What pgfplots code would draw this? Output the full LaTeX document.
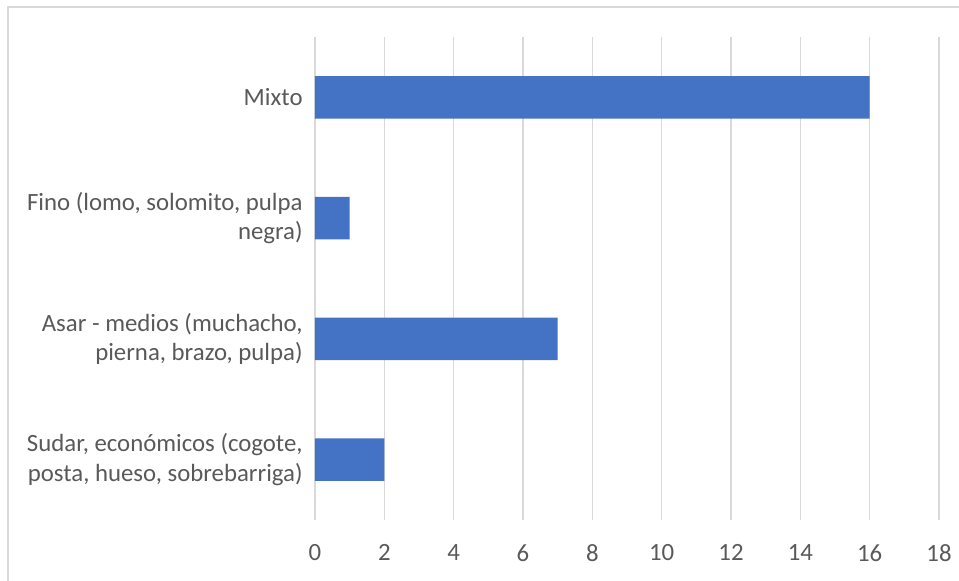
\documentclass[border=0pt]{standalone}
\usepackage{fontspec}
\setmainfont{Carlito}
\usepackage{pgfplots}
\pgfplotsset{compat=1.18}
\definecolor{barblue}{HTML}{4472C4}
\definecolor{txtgray}{HTML}{595959}
\definecolor{gridgray}{HTML}{D9D9D9}
\begin{document}
\begin{tikzpicture}
% 1 px of the reference = 0.5pt
\useasboundingbox (0,0) rectangle (479.5pt,290.5pt);
\draw[gridgray, line width=1pt] (4pt,0) -- (4pt,286.8pt) -- (479.5pt,286.8pt);
\begin{axis}[
    at={(157.5pt,30.5pt)}, anchor=south west,
    scale only axis,
    width=312pt, height=241.5pt,
    xbar, bar width=21.25pt, bar shift=0pt,
    xmin=0, xmax=18,
    xtick={0,2,...,18},
    ymin=-0.5, ymax=3.5,
    ytick={0,1,2,3},
    yticklabels={
        {Sudar, económicos (cogote,\\posta, hueso, sobrebarriga)},
        {Asar - medios (muchacho,\\pierna, brazo, pulpa)},
        {Fino (lomo, solomito, pulpa\\negra)},
        {Mixto}},
    axis line style={draw=none},
    major tick length=0pt,
    xmajorgrids,
    grid style={gridgray, line width=0.75pt},
    /pgf/number format/assume math mode=true,
    ticklabel style={text=txtgray, font=\fontsize{12.4}{14.9}\selectfont, inner sep=0pt},
    yticklabel style={align=right, xshift=-6pt},
    xticklabel style={yshift=-12pt},
]
\addplot[fill=barblue, draw=none] coordinates {(2,0) (7,1) (1,2) (16,3)};
\end{axis}
\end{tikzpicture}
\end{document}
